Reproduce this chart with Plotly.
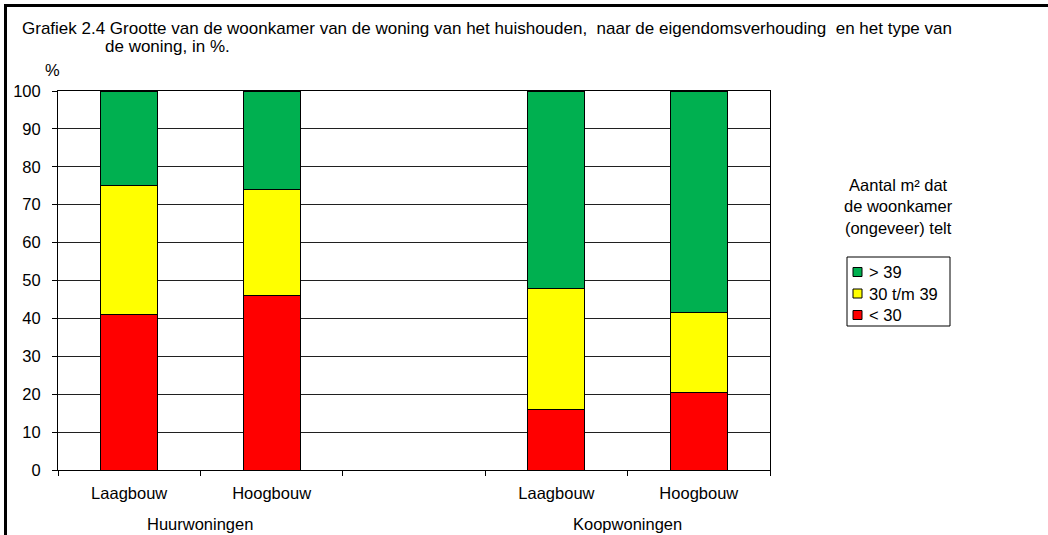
import plotly.graph_objects as go

categories = ["huur_laag", "huur_hoog", "gap", "koop_laag", "koop_hoog"]
tick_labels = ["Laagbouw", "Hoogbouw", "", "Laagbouw", "Hoogbouw"]
group_labels = ["Huurwoningen", "Koopwoningen"]
group_centers = [0.5, 3.5]

series_names = ["< 30", "30 t/m 39", "> 39"]
red_vals = [41, 46, None, 16, 20.5]
yellow_vals = [34, 28, None, 32, 21]
green_vals = [25, 26, None, 52, 58.5]
colors = ["#FF0000", "#FFFF00", "#00B050"]

y_ticks = list(range(0, 101, 10))

W, H = 1048, 535
ML, MR, MT, MB = 58, 278, 91, 65
PW, PH = W - ML - MR, H - MT - MB

def px(x):
    return (x - ML) / PW

def py(y):
    return (H - MB - y) / PH

FONT = "Liberation Sans, Arial, sans-serif"
FS = 16.5

fig = go.Figure()
for name, vals, col in zip(series_names, [red_vals, yellow_vals, green_vals], colors):
    fig.add_trace(go.Bar(
        x=categories, y=vals, name=name, width=0.4,
        marker=dict(color=col, line=dict(color="black", width=1)),
    ))

fig.update_layout(
    width=W, height=H,
    margin=dict(l=ML, r=MR, t=MT, b=MB),
    barmode="stack",
    plot_bgcolor="white", paper_bgcolor="white",
    font=dict(family=FONT, size=FS, color="black"),
    showlegend=False,
    xaxis=dict(
        type="category", categoryorder="array", categoryarray=categories,
        tickvals=categories, ticktext=tick_labels,
        tickson="boundaries", ticks="outside", ticklen=5, tickcolor="black",
        range=[-0.5, 4.5], showgrid=False,
        showline=True, linecolor="black", linewidth=1, mirror=True,
        ticklabelstandoff=8,
    ),
    yaxis=dict(
        range=[0, 100], tickvals=y_ticks, ticks="outside", ticklen=5,
        tickcolor="black", showgrid=True, gridcolor="#202020", gridwidth=1,
        showline=True, linecolor="black", linewidth=1, mirror=True,
        zeroline=False, ticklabelstandoff=8,
    ),
)

annotations = [
    dict(x=px(20), y=py(29), xref="paper", yref="paper", xanchor="left", yanchor="middle",
         text="Grafiek 2.4 Grootte van de woonkamer van de woning van het huishouden,  naar de eigendomsverhouding  en het type van",
         showarrow=False, font=dict(size=17)),
    dict(x=px(103), y=py(47), xref="paper", yref="paper", xanchor="left", yanchor="middle",
         text="de woning, in %.", showarrow=False, font=dict(size=17)),
    dict(x=px(52), y=py(70), xref="paper", yref="paper", xanchor="center", yanchor="middle",
         text="%", showarrow=False),
    dict(x=px(899), y=py(206), xref="paper", yref="paper", xanchor="center", yanchor="middle",
         text="Aantal m² dat<br>de woonkamer<br>(ongeveer) telt", showarrow=False, align="center"),
]
for lbl, c in zip(group_labels, group_centers):
    annotations.append(dict(x=c, y=py(524), xref="x", yref="paper", xanchor="center",
                            yanchor="middle", text=lbl, showarrow=False))

# manual legend (box, swatches, labels) in the reference's order: top series first
shapes = []
leg_x0, leg_x1, leg_y0, leg_y1 = 847, 950, 257, 326
shapes.append(dict(type="rect", xref="paper", yref="paper",
                   x0=px(leg_x0), x1=px(leg_x1), y0=py(leg_y1), y1=py(leg_y0),
                   line=dict(color="black", width=1), fillcolor="white"))
row_y = [272, 293.5, 315]
for ry, name, col in zip(row_y, series_names[::-1], colors[::-1]):
    shapes.append(dict(type="rect", xref="paper", yref="paper",
                       x0=px(853), x1=px(862), y0=py(ry + 4.5), y1=py(ry - 4.5),
                       line=dict(color="black", width=1), fillcolor=col))
    annotations.append(dict(x=px(867), y=py(ry), xref="paper", yref="paper",
                            xanchor="left", yanchor="middle", text=name, showarrow=False))

# outer frame: top and left edges (the others fall outside the picture)
shapes.append(dict(type="rect", xref="paper", yref="paper",
                   x0=px(4), x1=px(1048), y0=py(7), y1=py(4),
                   line=dict(width=0), fillcolor="black", layer="above"))
shapes.append(dict(type="rect", xref="paper", yref="paper",
                   x0=px(4), x1=px(7), y0=py(535), y1=py(4),
                   line=dict(width=0), fillcolor="black", layer="above"))
fig.update_layout(annotations=annotations, shapes=shapes)

fig.write_html("out.html", config={"displayModeBar": False},
               post_script="document.body.style.margin='0';")
